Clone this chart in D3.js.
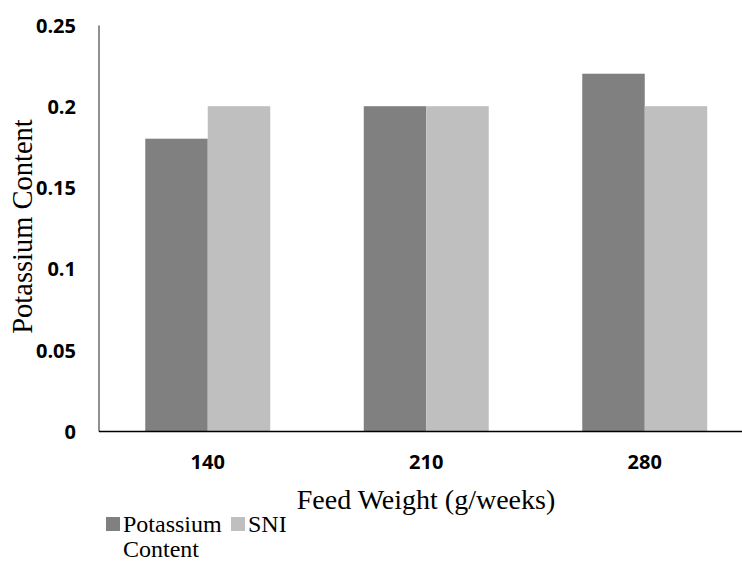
<!DOCTYPE html>
<html>
<head>
<meta charset="utf-8">
<script src="https://cdn.jsdelivr.net/npm/d3@7"></script>
<style>
  html, body { margin: 0; padding: 0; background: #fff; }
  svg { display: block; }
</style>
</head>
<body>
<svg id="chart" width="742" height="561"></svg>
<script>
// Feed weight groups and the two measured series
const categories = ["140", "210", "280"];
const seriesNames = ["Potassium Content", "SNI"];
const potassiumContent = [0.18, 0.20, 0.22];
const sniValues = [0.20, 0.20, 0.20];
const yTickValues = [0, 0.05, 0.1, 0.15, 0.2, 0.25];
const yTickLabels = ["0", "0.05", "0.1", "0.15", "0.2", "0.25"];
const seriesColors = ["#808080", "#bfbfbf"];

const SERIF = "'Liberation Serif', 'Times New Roman', serif";
const SANS = "'Open Sans', sans-serif";

const rows = categories.map((c, i) => ({
  category: c,
  values: [potassiumContent[i], sniValues[i]]
}));

const svg = d3.select("#chart");
const plotLeft = 98.5, plotRight = 754, plotTop = 25, plotBottom = 431;

const x0 = d3.scaleBand()
  .domain(categories)
  .range([plotLeft, plotRight])
  .paddingInner(0.428)
  .paddingOuter(0.214);

const x1 = d3.scaleBand()
  .domain(seriesNames)
  .range([0, x0.bandwidth()]);

const y = d3.scaleLinear().domain([0, 0.25]).range([plotBottom, plotTop]);
const color = d3.scaleOrdinal().domain(seriesNames).range(seriesColors);

// Bars
const groups = svg.append("g").selectAll("g")
  .data(rows)
  .join("g")
  .attr("transform", d => `translate(${x0(d.category)},0)`);

groups.selectAll("rect")
  .data(d => d.values.map((v, k) => ({ key: seriesNames[k], value: v })))
  .join("rect")
  .attr("x", d => x1(d.key))
  .attr("width", x1.bandwidth())
  .attr("y", d => y(d.value))
  .attr("height", d => y(0) - y(d.value))
  .attr("fill", d => color(d.key));

// Y axis
const yAxis = svg.append("g")
  .attr("transform", `translate(${plotLeft},0)`)
  .call(d3.axisLeft(y)
    .tickValues(yTickValues)
    .tickSize(0)
    .tickPadding(22.5)
    .tickFormat((d, i) => yTickLabels[i]));
yAxis.select(".domain").attr("stroke", "#6b6b6b").attr("stroke-width", 1.5);
yAxis.selectAll("text")
  .style("font-family", SANS)
  .style("font-weight", "bold")
  .style("font-size", "20px")
  .attr("fill", "#000")
  .attr("dy", "0.36em");

// X axis
const xAxis = svg.append("g")
  .attr("transform", `translate(0,${plotBottom})`)
  .call(d3.axisBottom(x0).tickSize(0));
xAxis.select(".domain").attr("stroke", "#000").attr("stroke-width", 1.3);
xAxis.selectAll("text")
  .style("font-family", SANS)
  .style("font-weight", "bold")
  .style("font-size", "20px")
  .attr("fill", "#000")
  .attr("y", 38)
  .attr("dy", 0);

// Axis titles
svg.append("text")
  .attr("x", 426)
  .attr("y", 509)
  .attr("text-anchor", "middle")
  .style("font-family", SERIF)
  .style("font-size", "28px")
  .attr("fill", "#000")
  .text("Feed Weight (g/weeks)");

svg.append("text")
  .attr("transform", "translate(32,226.5) rotate(-90)")
  .attr("text-anchor", "middle")
  .style("font-family", SERIF)
  .style("font-size", "28.5px")
  .attr("fill", "#000")
  .text("Potassium Content");

// Legend
const legendItems = [
  { key: seriesNames[0], x: 106, lines: ["Potassium", "Content"] },
  { key: seriesNames[1], x: 231, lines: ["SNI"] }
];
const legend = svg.append("g");
legendItems.forEach(item => {
  legend.append("rect")
    .attr("x", item.x)
    .attr("y", 517)
    .attr("width", 14)
    .attr("height", 14)
    .attr("fill", color(item.key));
  item.lines.forEach((line, i) => {
    legend.append("text")
      .attr("x", item.x + 17)
      .attr("y", 532 + i * 24.5)
      .style("font-family", SERIF)
      .style("font-size", "24px")
      .attr("fill", "#000")
      .text(line);
  });
});
</script>
</body>
</html>
